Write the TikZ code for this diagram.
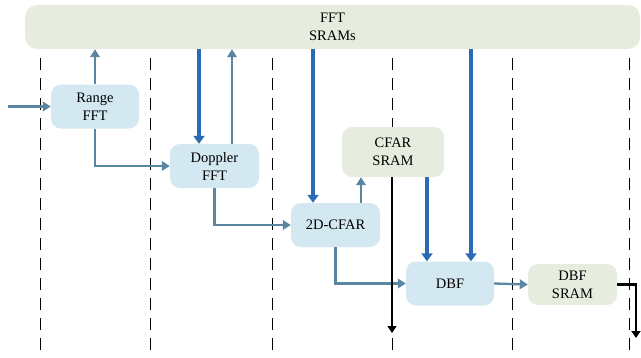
\documentclass[tikz,border=0pt]{standalone}
\usepackage{fontspec}
\setmainfont{Liberation Serif}
\usetikzlibrary{arrows.meta}
\definecolor{procfill}{HTML}{D3E8F0}
\definecolor{memfill}{HTML}{E6ECDE}
\definecolor{steel}{HTML}{5B86A2}
\definecolor{membus}{HTML}{2A6BB4}
\begin{document}
\begin{tikzpicture}[x=1pt,y=-1pt]
        \tikzstyle{proc}=[rounded corners=10pt,fill=procfill,align=center,minimum width=88pt,minimum height=44pt,inner sep=0pt,font=\fontsize{14.5}{18}\selectfont]
        \tikzstyle{mem}=[proc,fill=memfill]
        \tikzstyle{flow}=[draw=steel,line width=2.3pt,-{Triangle[length=8pt,width=9.5pt]}]
        \tikzstyle{bus}=[draw=membus,line width=3.5pt,-{Triangle[length=8pt,width=11pt]}]
        \tikzstyle{outp}=[draw=black,line width=2.2pt,-{Triangle[length=7pt,width=9pt]}]
        \tikzstyle{stage}=[draw=black,line width=0.9pt,dash pattern=on 12pt off 8pt]
       \useasboundingbox (0,0) rectangle (641,357);
       % stage boundaries
       \foreach \x in {40,150,272,392,512,629}
         \draw[stage] (\x,58) -- (\x,353);
       \begin{scope}
         \node [mem, rounded corners=12pt, minimum width=615pt] (fftsram) at (332.5,27) {FFT\\SRAMs};
         \node [proc] (range) at (95,106.5) {Range\\FFT};
         \node [proc, minimum width=89pt] (doppler) at (214.5,166) {Doppler\\FFT};
         \node [proc, minimum width=89pt] (cfar) at (335.5,225) {2D-CFAR};
         \node [mem, minimum width=102pt, minimum height=50pt] (cfarsram) at (393,152) {CFAR\\SRAM};
         \node [proc] (dbf) at (450,283.5) {DBF};
         \node [mem, minimum width=89pt, minimum height=41pt] (dbfsram) at (572.5,284.5) {DBF\\SRAM};
         \coordinate (in) at (8,106.5);
         \coordinate (out1) at (392,333);
         \coordinate (out2) at (636,338);

         \path[flow] (in) -- (range.west);
         \path[flow] (range.north) -- (range.north |- fftsram.south);
         \path[flow] (range.south) |- (doppler.west);
         \path[bus] ([xshift=-15.5pt]doppler.north |- fftsram.south) -- ([xshift=-15.5pt]doppler.north);
         \path[flow] ([xshift=17.5pt]doppler.north) -- ([xshift=17.5pt]doppler.north |- fftsram.south);
         \path[flow] (doppler.south) |- (cfar.west);
         \path[bus] ([xshift=-22.5pt]cfar.north |- fftsram.south) -- ([xshift=-22.5pt]cfar.north);
         \path[flow] ([xshift=25.5pt]cfar.north) -- ([xshift=25.5pt]cfar.north |- cfarsram.south);
         \path[flow] (cfar.south) |- (dbf.west);
         \path[outp] (cfarsram.south -| out1) -- (out1);
         \path[bus] ([xshift=34pt]cfarsram.south) -- ([xshift=34pt]cfarsram.south |- dbf.north);
         \path[bus] ([xshift=21pt]dbf.north |- fftsram.south) -- ([xshift=21pt]dbf.north);
         \path[flow] (dbf.east) -- (dbfsram.west);
         \path[outp] (dbfsram.east) -| (out2);
        \end{scope}
      \end{tikzpicture}
\end{document}
